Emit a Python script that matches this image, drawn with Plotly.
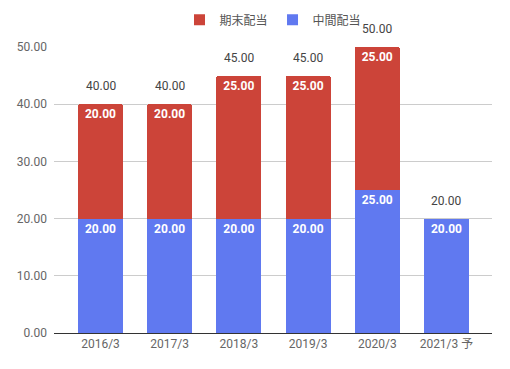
import plotly.graph_objects as go

categories = ["2016/3", "2017/3", "2018/3", "2019/3", "2020/3", "2021/3 予"]
interim = [20, 20, 20, 20, 25, 20]        # 中間配当
year_end = [20, 20, 25, 25, 25, None]     # 期末配当
totals = [40, 40, 45, 45, 50, 20]
y_ticks = [0, 10, 20, 30, 40, 50]

FONT = "Roboto, 'Noto Sans CJK JP', sans-serif"
BLUE = "#6079f0"
RED = "#cc4439"

fig = go.Figure()
fig.add_trace(go.Bar(
    x=categories, y=interim, name="中間配当",
    marker=dict(color=BLUE, line=dict(width=0)),
    text=[f"{v:.2f}" for v in interim],
    textposition="inside", insidetextanchor="end",
    textfont=dict(color="white", size=12, family=FONT, weight="bold"),
    width=0.65, hoverinfo="skip", showlegend=False,
))
fig.add_trace(go.Bar(
    x=categories, y=year_end, name="期末配当",
    marker=dict(color=RED, line=dict(width=0)),
    text=[f"{v:.2f}" if v is not None else "" for v in year_end],
    textposition="inside", insidetextanchor="end",
    textfont=dict(color="white", size=12, family=FONT, weight="bold"),
    width=0.65, hoverinfo="skip", showlegend=False,
))
# legend entries with square swatches
for name, col in [("期末配当", RED), ("中間配当", BLUE)]:
    fig.add_trace(go.Scatter(x=[None], y=[None], mode="markers", name=name,
                             marker=dict(symbol="square", size=11, color=col)))

for c, t in zip(categories, totals):
    fig.add_annotation(x=c, y=t, text=f"{t:.2f}", showarrow=False,
                       yanchor="middle", yshift=18,
                       font=dict(color="#444444", size=12, family=FONT))

fig.update_layout(
    width=494, height=353,
    margin=dict(l=46, r=10, t=39, b=28, autoexpand=False),
    barmode="stack", barcornerradius=2,
    plot_bgcolor="white", paper_bgcolor="white",
    font=dict(family=FONT, size=12, color="#666666"),
    showlegend=True,
    legend=dict(orientation="h", x=0.5, xanchor="center", y=1.095, yanchor="middle",
                traceorder="normal", itemwidth=30,
                font=dict(size=12, color="#555555", family=FONT)),
    xaxis=dict(range=[-0.672, 5.658], showgrid=False, showline=True,
               linecolor="#333333", linewidth=1, ticks="", automargin=False,
               tickfont=dict(color="#666666", size=12)),
    yaxis=dict(range=[0, 50], tickvals=y_ticks, tickformat=".2f",
               showgrid=True, gridcolor="#cccccc", zeroline=False, automargin=False,
               showline=False, ticks="", ticklabelstandoff=6,
               tickfont=dict(color="#666666", size=12)),
)
fig.write_html("out.html")
